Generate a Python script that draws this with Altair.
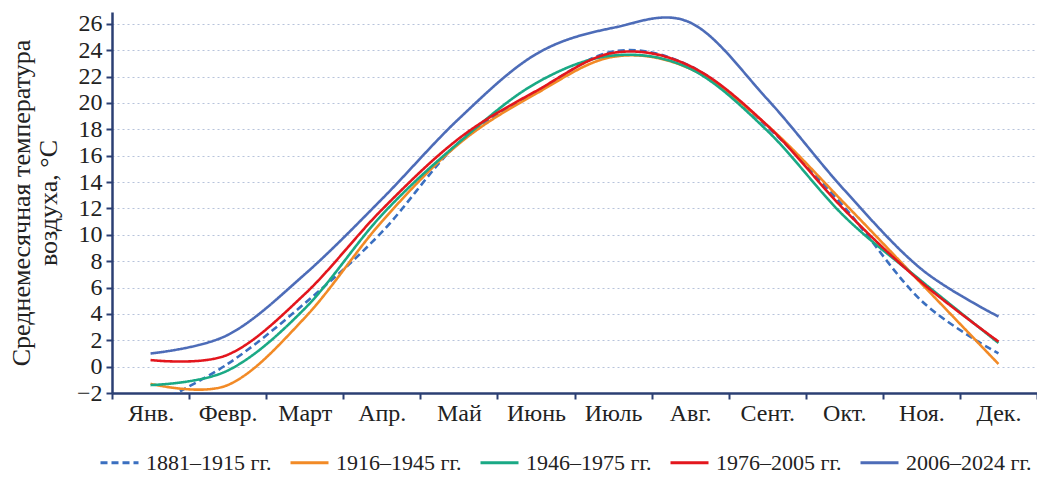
import json
import altair as alt
import pandas as pd

months = ["Янв.", "Февр.", "Март", "Апр.", "Май", "Июнь", "Июль", "Авг.",
          "Сент.", "Окт.", "Ноя.", "Дек."]

series_names = ["1881–1915 гг.", "1916–1945 гг.", "1946–1975 гг.",
                "1976–2005 гг.", "2006–2024 гг."]

s1881 = [-3.0, 0.2, 4.8, 10.2, 17.0, 20.8, 23.9, 22.8, 18.2, 12.1, 5.0, 1.0]
s1916 = [-1.3, -1.4, 3.7, 11.0, 16.9, 20.7, 23.5, 22.6, 18.3, 12.4, 6.3, 0.2]
s1946 = [-1.4, -0.3, 4.4, 11.5, 17.0, 21.5, 23.6, 22.6, 17.9, 11.4, 6.5, 1.8]
s1976 = [0.5, 0.9, 5.5, 11.9, 17.3, 20.9, 23.8, 22.8, 18.3, 11.9, 6.4, 1.9]
s2006 = [1.0, 2.4, 7.0, 12.7, 18.8, 23.7, 25.7, 26.1, 20.3, 13.4, 7.4, 3.8]

y_ticks = list(range(-2, 27, 2))

colors = ["#3a6fc0", "#f28a26", "#1aa985", "#e3161d", "#4d6cb8"]
dashes = [[7, 4], [1, 0], [1, 0], [1, 0], [1, 0]]

rows = []
for name, vals in zip(series_names, [s1881, s1916, s1946, s1976, s2006]):
    for i, v in enumerate(vals):
        rows.append({"series": name, "m": i, "t": v})
df = pd.DataFrame(rows)

x_vals = [i * 0.5 - 0.5 for i in range(2 * len(months) + 1)]
label_expr = ("datum.value % 1 === 0 ? " + json.dumps(months, ensure_ascii=False)
              + "[datum.value] : ''")

FONT = "Liberation Serif"
AXIS_COLOR = "#2b3f73"

legend = alt.Legend(
    title=None, orient="none", legendX=-13, legendY=430,
    direction="horizontal", columns=5, symbolType="stroke",
    symbolSize=1444, symbolStrokeWidth=3, labelFont=FONT, labelFontSize=22,
    labelColor="#222222", columnPadding=12, labelOffset=6, padding=0,
    labelLimit=300,
)

chart = alt.Chart(df).mark_line(
    interpolate="cardinal", strokeWidth=2.6, clip=True
).encode(
    x=alt.X("m:Q",
            scale=alt.Scale(domain=[-0.5, len(months) - 0.5], nice=False, zero=False),
            axis=alt.Axis(values=x_vals, labelExpr=label_expr, title=None, grid=False,
                          tickOpacity={"condition": {"test": "datum.value % 1 === 0", "value": 0}, "value": 1},
                          tickSize=6, tickWidth=2, tickColor=AXIS_COLOR,
                          domainColor=AXIS_COLOR, domainWidth=2.5,
                          labelFont=FONT, labelFontSize=24, labelColor="#222222",
                          labelPadding=2, labelOverlap=False, labelFlush=False)),
    y=alt.Y("t:Q",
            scale=alt.Scale(domain=[-2, 26.9], nice=False, zero=False),
            axis=alt.Axis(values=y_ticks, tickSize=6, tickWidth=2, tickColor=AXIS_COLOR,
                          domainColor=AXIS_COLOR, domainWidth=2.5,
                          labelFont=FONT, labelFontSize=24, labelColor="#222222",
                          labelPadding=4,
                          gridColor="#b7c3db", gridDash=[2, 3], gridWidth=1.2,
                          title=["Среднемесячная температура", "воздуха, °C"],
                          titleFont=FONT, titleFontSize=26, titleFontWeight="normal",
                          titleColor="#222222", titlePadding=15, titleLineHeight=27)),
    color=alt.Color("series:N",
                    scale=alt.Scale(domain=series_names, range=colors),
                    legend=legend),
    strokeDash=alt.StrokeDash("series:N",
                              scale=alt.Scale(domain=series_names, range=dashes),
                              legend=legend),
    order=alt.Order("m:Q"),
).properties(
    width=925, height=381,
    autosize=alt.AutoSizeParams(type="none"),
    padding={"left": 104, "top": 4, "right": 0, "bottom": 81},
    background="white",
).configure_view(stroke=None)

chart.save("out.html", embed_options={"renderer": "svg", "actions": False})
